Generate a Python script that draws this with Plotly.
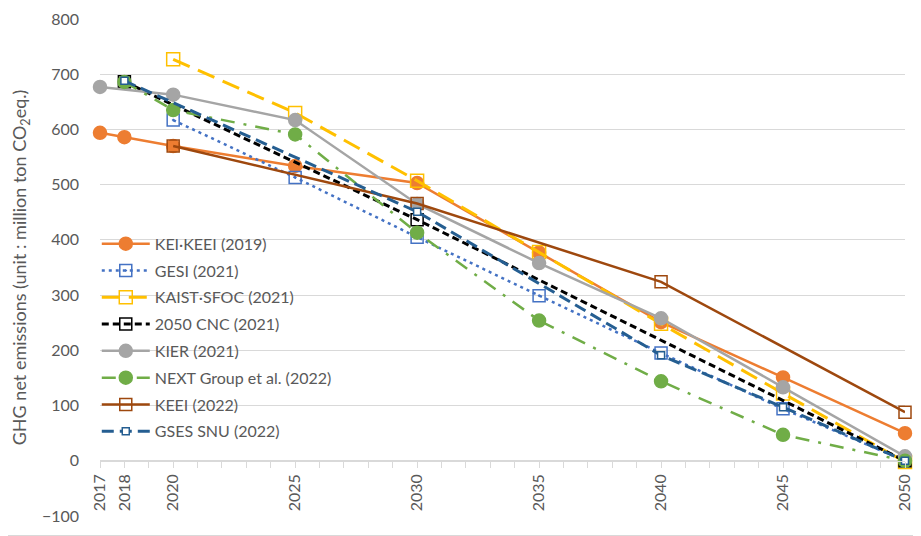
import plotly.graph_objects as go

# ---- data ----
kei_years = [2017, 2018, 2020, 2025, 2030, 2035, 2040, 2045, 2050]
kei_vals = [594, 586, 570, 534, 503, 377, 251, 151, 50]

gesi_years = [2020, 2025, 2030, 2035, 2040, 2045, 2050]
gesi_vals = [617, 513, 405, 299, 195, 94, 0]

kaist_years = [2020, 2025, 2030, 2035, 2040, 2045, 2050]
kaist_vals = [727, 630, 507, 378, 248, 122, -2]

cnc_years = [2018, 2030, 2050]
cnc_vals = [686.3, 436.6, 0]

kier_years = [2017, 2020, 2025, 2030, 2035, 2040, 2045, 2050]
kier_vals = [677, 663, 617, 465, 358, 258, 133, 8]

next_years = [2018, 2020, 2025, 2030, 2035, 2040, 2045, 2050]
next_vals = [686, 635, 591, 413, 254, 144, 47, 0]

keei_years = [2020, 2030, 2040, 2050]
keei_vals = [570, 466, 324, 88]

gses_years = [2018, 2030, 2040, 2045, 2050]
gses_vals = [688, 451, 191, 97, 0]

x_label_years = [2017, 2018, 2020, 2025, 2030, 2035, 2040, 2045, 2050]
y_ticks = [-100, 0, 100, 200, 300, 400, 500, 600, 700, 800]

FONT = "Lato, 'Noto Sans', sans-serif"
GREY_TXT = "#595959"
GRID = "#d9d9d9"

# page body has an 8px margin, so the figure is sized to fit the window
W, H = 913, 528
ML, MR, MT, MB = 92, 16, 11, 20
PW, PH = W - ML - MR, H - MT - MB

fig = go.Figure()

def add(name, xs, ys, color, dash, width, symbol, size, fill=None):
    fig.add_trace(go.Scatter(
        x=xs, y=ys, name=name, legendgroup=name, mode="lines+markers",
        line=dict(color=color, dash=dash, width=width),
        marker=dict(symbol=symbol, size=size, color=fill if fill else color,
                    line=dict(color=color, width=1.5)),
        cliponaxis=False,
    ))

add("KEI·KEEI (2019)", kei_years, kei_vals, "#ED7D31", "solid", 2.5, "circle", 13)
add("GESI (2021)", gesi_years, gesi_vals, "#4472C4", "3px,4px", 2.5, "square-open-dot", 12)
add("KAIST·SFOC (2021)", kaist_years, kaist_vals, "#FFC000", "18px,9px", 3, "square-open", 13)
add("2050 CNC (2021)", cnc_years, cnc_vals, "#000000", "7px,4px", 3, "square-open", 12)
add("KIER (2021)", kier_years, kier_vals, "#A5A5A5", "solid", 2.5, "circle", 13)
add("NEXT Group et al. (2022)", next_years, next_vals, "#70AD47", "14px,9px,3px,9px", 2.5, "circle", 13)
add("KEEI (2022)", keei_years, keei_vals, "#9E480E", "solid", 2.5, "square-open", 12)
add("GSES SNU (2022)", gses_years, gses_vals, "#255E91", "12px,6px", 3, "square", 7, fill="white")

fig.update_layout(
    width=W, height=H,
    margin=dict(l=ML, r=MR, t=MT, b=MB),
    paper_bgcolor="white", plot_bgcolor="white",
    font=dict(family=FONT, size=15, color=GREY_TXT),
    showlegend=True,
    legend=dict(
        x=-0.004, y=0.582, xanchor="left", yanchor="top",
        bgcolor="rgba(255,255,255,0)",
        font=dict(family=FONT, size=16, color=GREY_TXT),
        itemwidth=48, tracegroupgap=3,
    ),
    xaxis=dict(
        range=[2017, 2050],
        tickmode="array", tickvals=x_label_years,
        ticktext=[str(y) for y in x_label_years],
        tickangle=-90, automargin=False,
        showgrid=False, zeroline=False,
        showline=True, linecolor=GRID, linewidth=1,
        ticks="outside", ticklen=6, tickcolor=GRID,
        minor=dict(tick0=2017, dtick=1, ticks="outside", ticklen=6,
                   tickcolor=GRID, showgrid=False),
        anchor="free", position=1/9,
        tickfont=dict(family=FONT, size=16, color=GREY_TXT),
    ),
    yaxis=dict(
        range=[-100, 800], automargin=False,
        tickmode="array", tickvals=y_ticks,
        showgrid=True, gridcolor=GRID, gridwidth=1,
        zeroline=False, showline=False,
        ticks="", ticklabelstandoff=20,
        tickfont=dict(family=FONT, size=16, color=GREY_TXT),
        title=dict(text="GHG net emissions (unit : million ton CO<sub>2</sub>eq.)",
                   font=dict(family=FONT, size=18, color=GREY_TXT), standoff=12),
    ),
    shapes=[
        dict(type="line", xref="paper", yref="paper",
             x0=(W - ML - 0.5) / PW, x1=(W - ML - 0.5) / PW,
             y0=-MB / PH, y1=(PH + MT) / PH,
             line=dict(color=GRID, width=1)),
        dict(type="line", xref="paper", yref="paper",
             x0=-ML / PW, x1=(W - ML) / PW,
             y0=-(MB - 0.5) / PH, y1=-(MB - 0.5) / PH,
             line=dict(color=GRID, width=1)),
    ],
)

fig.write_html("out.html")
